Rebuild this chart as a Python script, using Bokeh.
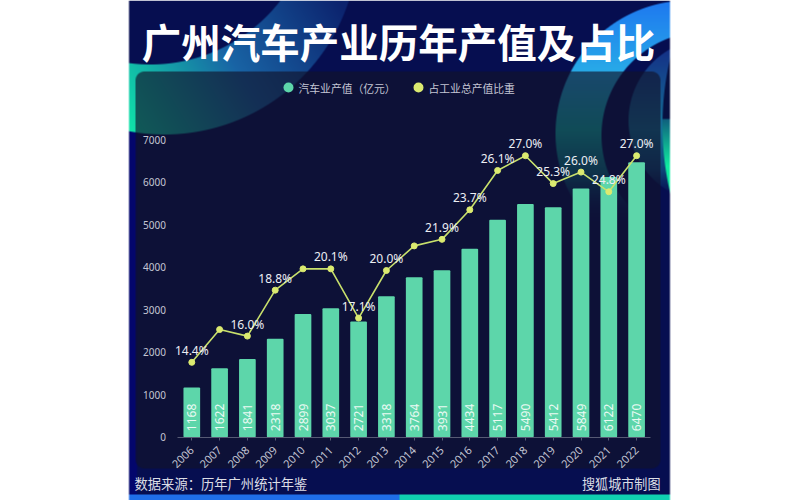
import numpy as np
from math import pi
from bokeh.plotting import figure
from bokeh.core.properties import value
from bokeh.models import Range1d, LinearAxis, FixedTicker, ColumnDataSource, Label
from bokeh.embed import file_html
from bokeh.resources import INLINE

title_text = "广州汽车产业历年产值及占比"
source_text = "数据来源：历年广州统计年鉴"
credit_text = "搜狐城市制图"
series_value_name = "汽车业产值（亿元）"
series_share_name = "占工业总产值比重"

years = [2006, 2007, 2008, 2009, 2010, 2011, 2012, 2013, 2014,
         2015, 2016, 2017, 2018, 2019, 2020, 2021, 2022]
output_value = [1168, 1622, 1841, 2318, 2899, 3037, 2721, 3318, 3764,
                3931, 4434, 5117, 5490, 5412, 5849, 6122, 6470]
share_pct = [14.4, 16.4, 16.0, 18.8, 20.1, 20.1, 17.1, 20.0, 21.5,
             21.9, 23.7, 26.1, 27.0, 25.3, 26.0, 24.8, 27.0]
share_label_hidden = [2007, 2010, 2014]
y_ticks = [0, 1000, 2000, 3000, 4000, 5000, 6000, 7000]

BAR = "#5dd6aa"
LINE = "#c8e06c"
DOT = "#dbea70"
TXT = "#eceef4"
AXT = "#c4c6d4"
CJK = "Noto Sans CJK SC"
NUM = "Noto Sans"

# page geometry (file_html's page places the figure at the window origin)
W, H = 672, 500
PX0, PY0 = 0, 0
PX1, PY1 = PX0 + W, PY0 + H
X_AT = lambda px: 2006 + (px - 191.3) / 27.8
V_AT = lambda py: (436.7 - py) / 0.0425
P_AT = lambda py: (598 - py) / 16.4

p = figure(width=W, height=H, output_backend="svg", toolbar_location=None,
           x_range=Range1d(X_AT(PX0), X_AT(PX1)),
           y_range=Range1d(V_AT(PY1), V_AT(PY0)),
           x_axis_location=None, y_axis_location=None,
           min_border=0, outline_line_color=None,
           background_fill_color="white", border_fill_color="white")
p.grid.visible = False
p.extra_y_ranges["pct"] = Range1d(P_AT(PY1), P_AT(PY0))
p.extra_x_ranges["px"] = Range1d(PX0, PX1)
p.extra_y_ranges["px"] = Range1d(-PY1, -PY0)   # minus page-y

# ---------- decorative background ----------
X, Y = np.meshgrid(np.arange(PX0, PX1) + .5, np.arange(PY0, PY1) + .5)


def disc(cx, cy, r):
    return np.clip(r - np.hypot(X - cx, Y - cy) + .5, 0, 1)


def over(img, col, a):
    c = np.broadcast_to(np.asarray(col, float), img.shape) if np.ndim(col) == 1 else col
    return img * (1 - a[..., None]) + c * a[..., None]


def ramp(t, stops):
    xs = [s[0] for s in stops]
    return np.stack([np.interp(t, xs, [s[1][i] for s in stops]) for i in range(3)], -1)


img = np.zeros(X.shape + (3,)) + (6, 14, 80)
img = over(img, (3, 6, 108), np.clip((137 - X), 0, 1) * np.clip(Y - 130, 0, 1))
# left crescent
t = np.clip(((340 - X) * 212 + Y * 130) / (212 ** 2 + 130 ** 2), 0, 1)
left_col = ramp(t, [(0, (12, 35, 110)), (.5, (25, 100, 165)), (1, (16, 228, 170))])
img = over(img, left_col, disc(164, -60, 194) * (1 - disc(150, -100, 164)))
# right ring
ring_col = ramp(Y, [(0, (30, 120, 240)), (70, (40, 170, 232)), (130, (15, 180, 170)), (220, (6, 30, 90))])
ring_fade = np.clip((222 - Y) / 50, 0, 1)
img = over(img, ring_col, disc(688, 133, 133) * (1 - disc(705, 135, 104)) * ring_fade)
# inner disc
in_col = ramp(Y, [(50, (20, 50, 135)), (130, (20, 115, 150)), (195, (10, 40, 100))])
in_fade = np.clip((200 - Y) / 30, 0, 1)
img = over(img, in_col, disc(710, 120, 82) * in_fade)
# green sliver on the edge
edge = disc(962, 125, 300)
img = over(img, (7, 16, 64), edge * np.clip((130 - Y) / 10, 0, 1))
green = ramp(Y, [(110, (15, 70, 120)), (165, (15, 235, 160)), (195, (15, 235, 160))])
img = over(img, green, edge * np.clip(Y - 118, 0, 1) * np.clip(Y < 195, 0, 1))
# panel
qx = np.abs(X - 397.5) - (262.5 - 9)
qy = np.abs(Y - 269.5) - (198.5 - 9)
sd = np.hypot(np.maximum(qx, 0), np.maximum(qy, 0)) + np.minimum(np.maximum(qx, qy), 0) - 9
img = over(img, (17, 19, 43), np.clip(.5 - sd, 0, 1) * .65)
# bottom bars
low = np.clip(Y - 493.5, 0, 1)
img = over(img, (31, 110, 232), low * (X < 399))
img = over(img, (16, 208, 176), low * (X >= 399))
alpha = np.clip(X - 128, 0, 1) * np.clip(669.5 - X + .5, 0, 1)
rgba = np.dstack([img, alpha * 255]).clip(0, 255).astype(np.uint8)[::-1]
view = rgba[:, :, 0].astype(np.uint32) | rgba[:, :, 1].astype(np.uint32) << 8 | \
    rgba[:, :, 2].astype(np.uint32) << 16 | rgba[:, :, 3].astype(np.uint32) << 24
p.image_rgba(image=[view], x=PX0, y=-PY1, dw=W, dh=H,
             x_range_name="px", y_range_name="px")

# ---------- axes ----------
xa = LinearAxis(fixed_location=0, bounds=(2005.5, 2022.5), ticker=FixedTicker(ticks=years))
xa.axis_line_color = "#565a74"
xa.major_tick_line_color = "#565a74"
xa.major_tick_out = 3
xa.major_tick_in = 0
xa.minor_tick_line_color = None
xa.major_label_orientation = pi / 4
xa.major_label_standoff = 8
xa.major_label_text_color = AXT
xa.major_label_text_font = NUM
xa.major_label_text_font_size = "11px"
p.add_layout(xa, "below")

ya = LinearAxis(fixed_location=2005.5, bounds=(0, 7000), ticker=FixedTicker(ticks=y_ticks))
ya.axis_line_color = None
ya.major_tick_line_color = None
ya.minor_tick_line_color = None
ya.major_label_standoff = 6
ya.major_label_text_color = AXT
ya.major_label_text_font = NUM
ya.major_label_text_font_size = "10px"
p.add_layout(ya, "left")

# ---------- marks ----------
src = ColumnDataSource(dict(year=years, value=output_value, share=share_pct,
                            value_text=[str(v) for v in output_value]))
p.vbar(x="year", top="value", bottom=0, width=0.6, source=src,
       fill_color=BAR, line_color=None, border_radius=1)
p.text(x="year", y=0, text="value_text", source=src, angle=pi / 2, y_offset=-6,
       text_align="left", text_baseline="middle", text_color="#eafaf3",
       text_font=value(NUM), text_font_size="12px")
p.line(x="year", y="share", source=src, y_range_name="pct", line_color=LINE, line_width=1.6)
p.scatter(x="year", y="share", source=src, y_range_name="pct", size=6,
          fill_color=DOT, line_color=DOT)
lab = [(y, s) for y, s in zip(years, share_pct) if y not in share_label_hidden]
p.text(x=[a for a, _ in lab], y=[b for _, b in lab], text=[f"{b:.1f}%" for _, b in lab],
       y_range_name="pct", y_offset=-12, text_align="center", text_baseline="middle",
       text_color=TXT, text_font=value(NUM), text_font_size="12px")

# ---------- legend ----------
p.scatter(x=[288], y=[-87], size=10, fill_color=BAR, line_color=None,
          x_range_name="px", y_range_name="px")
p.scatter(x=[418], y=[-87], size=10, fill_color=DOT, line_color=None,
          x_range_name="px", y_range_name="px")


def put(text, x, y, size, color, align="left", style="normal"):
    p.add_layout(Label(x=x, y=-y, x_range_name="px", y_range_name="px", text=text,
                       text_align=align, text_baseline="middle", text_color=color,
                       text_font=CJK, text_font_size=size, text_font_style=style))


put(series_value_name, 298, 87, "10.8px", AXT)
put(series_share_name, 428, 87, "10.8px", AXT)
put(title_text, 398, 40, "39.5px", "white", "center", "bold")
put(source_text, 134, 483, "13.3px", "#dcdee6")
put(credit_text, 660, 483, "13.1px", "#dcdee6", "right")

open("out.html", "w").write(file_html(p, INLINE))
